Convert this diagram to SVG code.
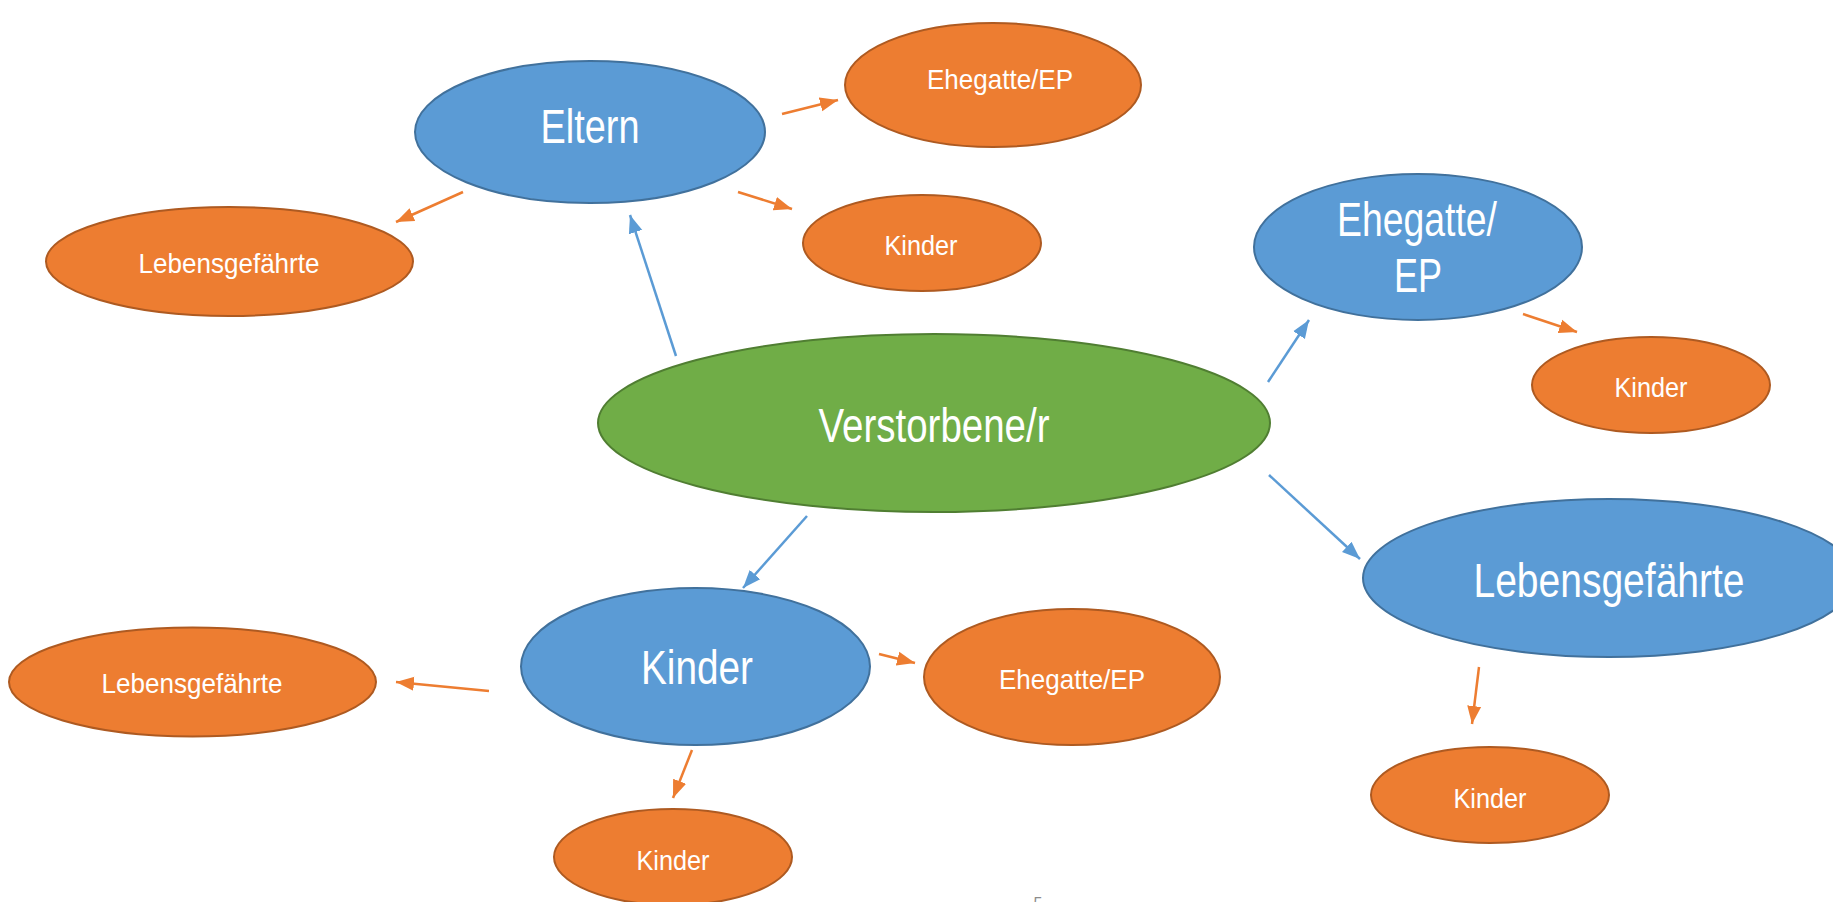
<svg xmlns="http://www.w3.org/2000/svg" width="1833" height="902" viewBox="0 0 1833 902">
<style>
.blue{fill:#5B9BD5;stroke:#41719C;stroke-width:2}
.orange{fill:#ED7D31;stroke:#AE5A21;stroke-width:2}
.green{fill:#70AD47;stroke:#507E32;stroke-width:2}
text{font-family:"Liberation Sans",Arial,sans-serif;fill:#FFFFFF;text-anchor:middle}
.big{font-size:48px}
.small{font-size:28px}
.cb{stroke:#5B9BD5;stroke-width:2.5;fill:none;marker-end:url(#ab)}
.co{stroke:#ED7D31;stroke-width:2.5;fill:none;marker-end:url(#ao)}
</style>
<defs>
<marker id="ab" markerUnits="userSpaceOnUse" markerWidth="20" markerHeight="16" viewBox="0 0 20 16" refX="18" refY="8" orient="auto"><path d="M0,1 L18,8 L0,15 Z" fill="#5B9BD5"/></marker>
<marker id="ao" markerUnits="userSpaceOnUse" markerWidth="20" markerHeight="16" viewBox="0 0 20 16" refX="18" refY="8" orient="auto"><path d="M0,1 L18,8 L0,15 Z" fill="#ED7D31"/></marker>
</defs>
<rect width="1833" height="902" fill="#FFFFFF"/>
<g id="connectors">
<line class="cb" x1="676" y1="356" x2="630" y2="215"/>
<line class="cb" x1="1268" y1="382" x2="1309" y2="320"/>
<line class="cb" x1="1269" y1="475" x2="1360" y2="559"/>
<line class="cb" x1="807" y1="516" x2="743" y2="588"/>
<line class="co" x1="463" y1="192" x2="396" y2="222"/>
<line class="co" x1="782" y1="114" x2="838" y2="100"/>
<line class="co" x1="738" y1="192" x2="792" y2="209"/>
<line class="co" x1="1523" y1="314" x2="1577" y2="332"/>
<line class="co" x1="1479" y1="667" x2="1472" y2="724"/>
<line class="co" x1="879" y1="654" x2="915" y2="663"/>
<line class="co" x1="489" y1="691" x2="396" y2="682"/>
<line class="co" x1="692" y1="750" x2="673" y2="798"/>
</g>
<g id="verstorbene">
<ellipse class="green" cx="934" cy="423" rx="336" ry="89"/>
<text class="big" x="934" y="442" textLength="231" lengthAdjust="spacingAndGlyphs">Verstorbene/r</text>
</g>
<g id="eltern">
<ellipse class="blue" cx="590" cy="132" rx="175" ry="71"/>
<text class="big" x="590" y="143" textLength="99" lengthAdjust="spacingAndGlyphs">Eltern</text>
</g>
<g id="eltern-lebensgefaehrte">
<ellipse class="orange" cx="229.5" cy="261.5" rx="183.5" ry="54.5"/>
<text class="small" x="229" y="273" textLength="181" lengthAdjust="spacingAndGlyphs">Lebensgefährte</text>
</g>
<g id="eltern-ehegatte">
<ellipse class="orange" cx="993" cy="85" rx="148" ry="62"/>
<text class="small" x="1000" y="89" textLength="146" lengthAdjust="spacingAndGlyphs">Ehegatte/EP</text>
</g>
<g id="eltern-kinder">
<ellipse class="orange" cx="922" cy="243" rx="119" ry="48"/>
<text class="small" x="921" y="255" textLength="73" lengthAdjust="spacingAndGlyphs">Kinder</text>
</g>
<g id="ehegatte">
<ellipse class="blue" cx="1418" cy="247" rx="164" ry="73"/>
<text class="big" x="1417" y="236" textLength="160" lengthAdjust="spacingAndGlyphs">Ehegatte/</text>
<text class="big" x="1418" y="292" textLength="48" lengthAdjust="spacingAndGlyphs">EP</text>
</g>
<g id="ehegatte-kinder">
<ellipse class="orange" cx="1651" cy="385" rx="119" ry="48"/>
<text class="small" x="1651" y="397" textLength="73" lengthAdjust="spacingAndGlyphs">Kinder</text>
</g>
<g id="lebensgefaehrte">
<ellipse class="blue" cx="1609" cy="578" rx="246" ry="79"/>
<text class="big" x="1609" y="597" textLength="271" lengthAdjust="spacingAndGlyphs">Lebensgefährte</text>
</g>
<g id="lebensgefaehrte-kinder">
<ellipse class="orange" cx="1490" cy="795" rx="119" ry="48"/>
<text class="small" x="1490" y="808" textLength="73" lengthAdjust="spacingAndGlyphs">Kinder</text>
</g>
<g id="kinder">
<ellipse class="blue" cx="695.5" cy="666.5" rx="174.5" ry="78.5"/>
<text class="big" x="697" y="684" textLength="112" lengthAdjust="spacingAndGlyphs">Kinder</text>
</g>
<g id="kinder-ehegatte">
<ellipse class="orange" cx="1072" cy="677" rx="148" ry="68"/>
<text class="small" x="1072" y="689" textLength="146" lengthAdjust="spacingAndGlyphs">Ehegatte/EP</text>
</g>
<g id="kinder-lebensgefaehrte">
<ellipse class="orange" cx="192.5" cy="682" rx="183.5" ry="54.5"/>
<text class="small" x="192" y="693" textLength="181" lengthAdjust="spacingAndGlyphs">Lebensgefährte</text>
</g>
<g id="kinder-kinder">
<ellipse class="orange" cx="673" cy="857" rx="119" ry="48"/>
<text class="small" x="673" y="870" textLength="73" lengthAdjust="spacingAndGlyphs">Kinder</text>
</g>
<text x="1038" y="909" style="font-size:16px;fill:#8C8C8C">5</text>
</svg>
